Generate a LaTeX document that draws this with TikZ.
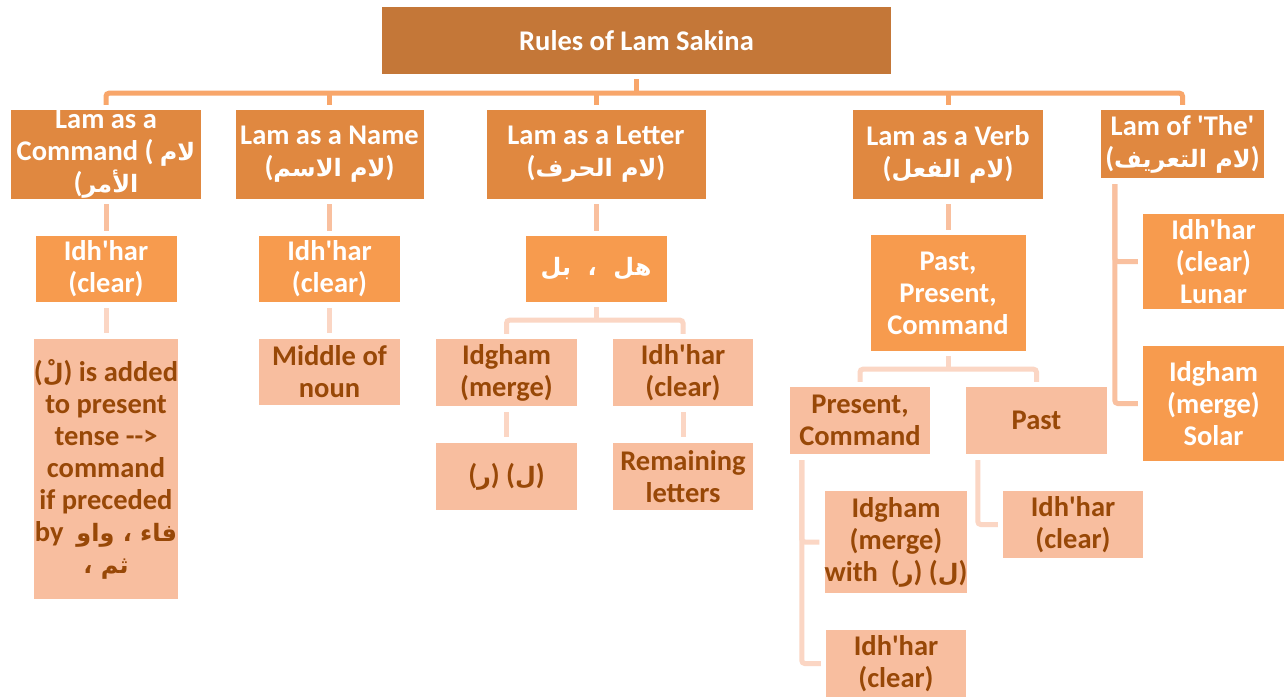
\documentclass[tikz,border=0pt]{standalone}
\usepackage{fontspec}
\newfontfamily\calibfont{Carlito}
\newfontfamily\arabicfont[Script=Arabic,Scale=0.84]{DejaVu Sans}
\TeXXeTstate=1
\usetikzlibrary{calc}
\newcommand{\artxt}[1]{{\arabicfont\beginR #1\endR}}

\definecolor{rootc}{HTML}{C47738}
\definecolor{lvlac}{HTML}{E08840}
\definecolor{lvlbc}{HTML}{F79B4E}
\definecolor{leafc}{HTML}{F8BE9F}
\definecolor{leaftxt}{HTML}{984807}
\definecolor{barc}{HTML}{F8A66A}
\definecolor{linkac}{HTML}{F9C09F}
\definecolor{linkbc}{HTML}{FBD6C4}

\begin{document}
\begin{tikzpicture}[x=1pt,y=1pt,
  box/.style={rectangle, inner sep=0pt, align=center,
    font=\calibfont\bfseries\fontsize{28.5}{32}\selectfont},
  sz/.style 2 args={minimum width=#1, minimum height=#2},
  rootbox/.style={box, fill=rootc, text=white},
  headbox/.style={box, fill=lvlac, text=white},
  midbox/.style={box, fill=lvlbc, text=white},
  leafbox/.style={box, fill=leafc, text=leaftxt},
  barline/.style={draw=barc, line width=5pt, rounded corners=3pt},
  linka/.style={draw=linkac, line width=5pt, rounded corners=3pt},
  linkb/.style={draw=linkbc, line width=5pt, rounded corners=3pt}
]
\fill[white] (0,0) rectangle (1287,-698);
\useasboundingbox (0,0) rectangle (1287,-698);

% root
\node[rootbox, sz={509}{67}] (root) at (636.5,-40.5) {Rules of Lam Sakina};

% first level
\node[headbox, sz={190}{89}] (cmd) at (106,-154.5)
  {Lam as a\\Command ( \artxt{لام}\\(\artxt{الأمر}};
\node[headbox, sz={188}{89}] (name) at (329.5,-154.5)
  {Lam as a Name\\(\artxt{لام الاسم})};
\node[headbox, sz={219}{89}] (letter) at (596,-154.5)
  {Lam as a Letter\\(\artxt{لام الحرف})};
\node[headbox, sz={190}{89}] (verb) at (948,-154.5)
  {Lam as a Verb\\(\artxt{لام الفعل})};
\node[headbox, sz={163}{68}] (the) at (1182.5,-144)
  {Lam of 'The'\\(\artxt{لام التعريف})};

% second level
\node[midbox, sz={141}{66}] (cmdA) at (106,-269) {Idh'har\\(clear)};
\node[midbox, sz={141}{66}] (nameA) at (329.5,-269) {Idh'har\\(clear)};
\node[midbox, sz={141}{66}] (letterA) at (596,-269) {\artxt{هل\ \ ،\ \ بل}};
\node[midbox, sz={155}{116}] (verbA) at (948,-293) {Past,\\Present,\\Command};
\node[midbox, sz={141}{95}] (theA) at (1213.5,-261.5) {Idh'har\\(clear)\\Lunar};
\node[midbox, sz={141}{115}] (theB) at (1213.5,-403.5) {Idgham\\(merge)\\Solar};

% third level
\node[leafbox, sz={141}{260}] (cmdB) at (106,-469)
  {(\artxt{لْ}) is added\\to present\\tense -\kern0pt-\kern0pt>\\command\\if preceded\\by\ \ \artxt{فاء ، واو}\\\artxt{ثم ،}};
\node[leafbox, sz={141}{66}] (nameB) at (329.5,-372) {Middle of\\noun};
\node[leafbox, sz={141}{67}] (letB1) at (506.5,-372.5) {Idgham\\(merge)};
\node[leafbox, sz={140}{67}] (letB2) at (683,-372.5) {Idh'har\\(clear)};
\node[leafbox, sz={140}{67}] (verbB1) at (860,-420.5) {Present,\\Command};
\node[leafbox, sz={141}{67}] (verbB2) at (1036.5,-420.5) {Past};

% fourth level
\node[leafbox, sz={141}{67}] (letC1) at (506.5,-476.5)
  {(\artxt{ر}) (\artxt{ل})};
\node[leafbox, sz={140}{67}] (letC2) at (683,-476.5) {Remaining\\letters};
\node[leafbox, sz={140}{102}] (verbC1) at (896,-542)
  {Idgham\\(merge)\\with\ \ (\artxt{ر}) (\artxt{ل})};
\node[leafbox, sz={140}{67}] (verbC2) at (896,-663.5) {Idh'har\\(clear)};
\node[leafbox, sz={140}{67}] (verbC3) at (1073,-524.5) {Idh'har\\(clear)};

% root to first level
\draw[barline] ([yshift=-5pt]root.south) -- ++(0,-14) coordinate (rb);
\draw[barline] ([yshift=5pt]cmd.north) |- (rb) -| ([yshift=5pt]the.north);
\foreach \n in {name,letter,verb}
  \draw[barline] ([yshift=5pt]\n.north) -- (rb -| \n.north);

% first to second level
\foreach \a/\b in {cmd/cmdA,name/nameA,letter/letterA,verb/verbA}
  \draw[linka] ([yshift=-5pt]\a.south) -- ([yshift=5pt]\b.north);
\draw[linka] ([xshift=14pt,yshift=-6pt]the.south west) |- ([xshift=-5pt]theA.west);
\draw[linka] ([xshift=14pt,yshift=-6pt]the.south west) |- ([xshift=-5pt]theB.west);

% second to third level
\foreach \a/\b in {cmdA/cmdB,nameA/nameB}
  \draw[linkb] ([yshift=-6pt]\a.south) -- ([yshift=6pt]\b.north);
\draw[linkb] ([yshift=-5pt]letterA.south) -- ++(0,-13) coordinate (lb);
\draw[linkb] ([yshift=5pt]letB1.north) |- (lb) -| ([yshift=5pt]letB2.north);
\draw[linkb] ([yshift=-5pt]verbA.south) -- ++(0,-13) coordinate (vb);
\draw[linkb] ([yshift=5pt]verbB1.north) |- (vb) -| ([yshift=5pt]verbB2.north);

% third to fourth level
\foreach \a/\b in {letB1/letC1,letB2/letC2}
  \draw[linkb] ([yshift=-6pt]\a.south) -- ([yshift=6pt]\b.north);
\draw[linkb] ([xshift=12pt,yshift=-6pt]verbB1.south west) |- ([xshift=-5pt]verbC1.west);
\draw[linkb] ([xshift=12pt,yshift=-6pt]verbB1.south west) |- ([xshift=-5pt]verbC2.west);
\draw[linkb] ([xshift=12pt,yshift=-6pt]verbB2.south west) |- ([xshift=-5pt]verbC3.west);
\end{tikzpicture}
\end{document}
